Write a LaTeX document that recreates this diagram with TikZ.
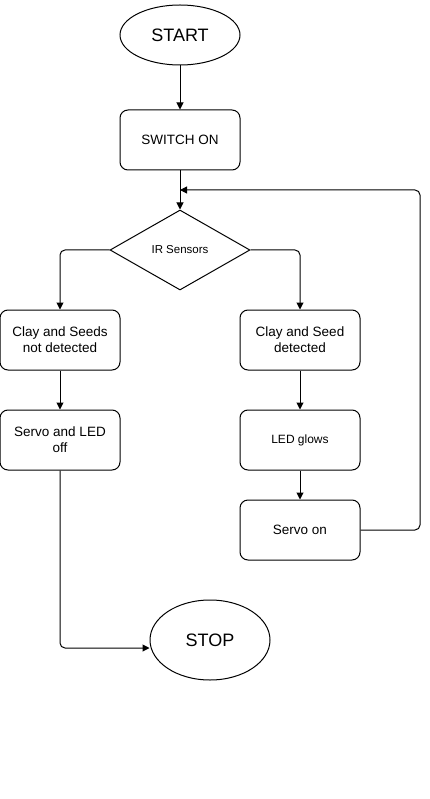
\documentclass[tikz,border=0pt]{standalone}
\usepackage{fontspec}
\setmainfont{Liberation Sans}
\usetikzlibrary{shapes.geometric,arrows.meta}
\begin{document}
\begin{tikzpicture}[x=1pt,y=-1pt,line width=1pt,
  box/.style={draw,rounded corners=8pt,minimum width=120pt,minimum height=60pt,align=center,inner sep=2pt,font=\fontsize{13.5}{16}\selectfont},
  term/.style={draw,ellipse,minimum width=120pt,font=\fontsize{18}{20}\selectfont},
  dec/.style={draw,diamond,aspect=1.75,minimum width=140pt,minimum height=80pt,inner sep=0pt,font=\fontsize{11.5}{13}\selectfont},
  arr/.style={-{Triangle[length=7pt,width=7pt]},rounded corners=5pt}]
\useasboundingbox (0,0) rectangle (429,799);
\node[term,minimum height=60pt] (start) at (180,35) {START};
\node[box] (sw) at (180,140) {SWITCH ON};
\node[dec] (ir) at (180,250) {IR Sensors};
\node[box] (nd) at (60,340) {Clay and Seeds\\not detected};
\node[box] (d) at (300,340) {Clay and Seed\\detected};
\node[box] (off) at (60,440) {Servo and LED\\off};
\node[box,font=\fontsize{12}{14}\selectfont] (led) at (300,440) {LED glows};
\node[box] (son) at (300,530) {Servo on};
\node[term,minimum height=80pt] (stop) at (210,640) {STOP};
\coordinate (j) at (180,190);
\draw[arr] (start) -- (sw);
\draw[arr] (sw) -- (ir);
\draw[arr] (ir.west) -| (nd.north);
\draw[arr] (ir.east) -| (d.north);
\draw[arr] (nd) -- (off);
\draw[arr] (d) -- (led);
\draw[arr] (led) -- (son);
\draw[arr] (son.east) -- (420,530) -- (420,190) -- (j);
\draw[arr] (off.south) -- (60,648) -- (stop.west |- 0,648);
\end{tikzpicture}
\end{document}
